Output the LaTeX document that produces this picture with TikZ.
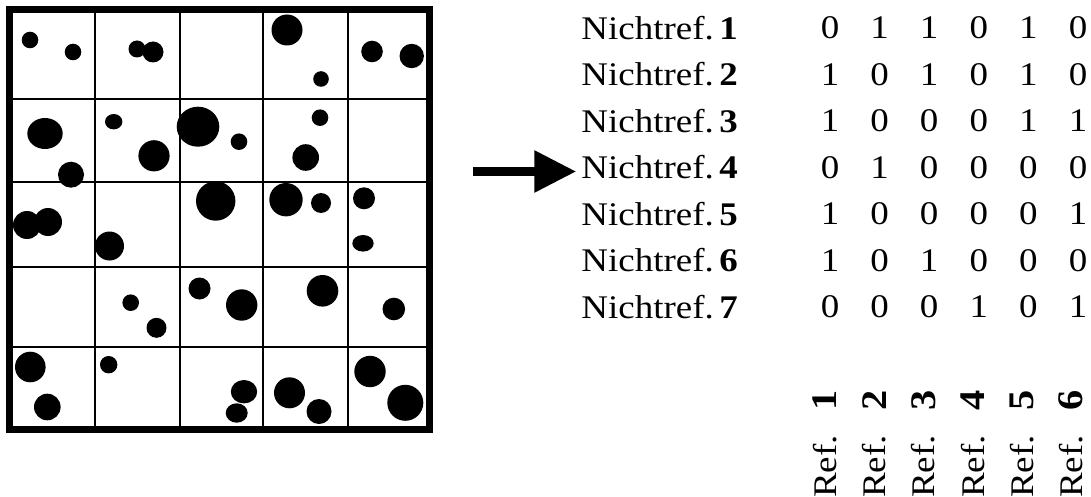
\documentclass[tikz,border=0pt]{standalone}
\usepackage{fontspec}
\setmainfont{Liberation Serif}[FakeStretch=1.12]
\usetikzlibrary{arrows.meta}
\tikzset{
  dot/.style={fill=black},
  frame/.style={draw=black, line width=7pt},
  gridline/.style={draw=black, line width=2pt},
  rowlab/.style={font=\fontsize{33}{33}\selectfont, inner sep=0pt, anchor=east},
  digit/.style={font=\fontsize{33}{33}\selectfont, inner sep=0pt},
  reflab/.style={rotate=90, inner sep=0pt, font=\fontsize{33}{33}\selectfont},
  refnum/.style={rotate=90, inner sep=0pt, font=\fontsize{36}{36}\selectfont\bfseries},
  bigarrow/.style={line width=9pt, -{Triangle[length=42pt,width=40pt]}}
}
\begin{document}
\begin{tikzpicture}[x=1pt,y=-1pt]
\useasboundingbox (0,0) rectangle (1091,497);
% dots
\foreach \x/\y/\r in {30/40/8.3, 73/52/8.3, 137/49/8.5, 153/52/10.5, 287/30/15.5, 321/79/7.8, 372/51.5/10.8, 411.7/56/12.2,
  71/174.7/13, 154/155.8/15.6, 239/141.7/8.3, 320/117.7/8.3, 305.7/157.5/13.3,
  27/225/14, 48/222/14, 109.5/246/14.5, 215.7/201/19.7, 286/199.7/16.7, 321/203/10, 364/198.3/11,
  130.7/302.7/8.3, 156.5/327.8/10, 199.5/288.5/11, 241.7/305/15.7, 322.5/290.8/15.8, 393.8/309/11.3,
  30.3/367/15.3, 47.3/407/13.3, 108.7/364.7/8.7, 289.5/392.8/15.5, 319/411.5/12.5, 370/371.5/15.7, 405.3/402.8/18}
  \fill[dot] (\x,\y) circle[radius=\r];
\fill[dot] (45,133.5) ellipse[x radius=17.7, y radius=15.5];
\fill[dot] (113.7,121.7) ellipse[x radius=8.7, y radius=7.7];
\fill[dot] (198,126.7) ellipse[x radius=21.3, y radius=20];
\fill[dot] (363,243.3) ellipse[x radius=10.7, y radius=8.3];
\fill[dot] (244,391.7) ellipse[x radius=13.2, y radius=11.7];
\fill[dot] (236.7,413) ellipse[x radius=11, y radius=9.7];
% grid
\foreach \g in {95,180,263,348} \draw[gridline] (\g,13) -- (\g,426);
\foreach \g in {99,182,267,347} \draw[gridline] (13,\g) -- (426,\g);
\draw[frame] (9.5,9.5) rectangle (429.5,429.5);
% row labels
\foreach \i in {1,...,7}
  \node[rowlab] (n\i) at (738,{28+46.5*(\i-1)}) {Nichtref.\,\textbf{\i}};
% matrix
\foreach \row [count=\i] in {{0,1,1,0,1,0},{1,0,1,0,1,0},{1,0,0,0,1,1},{0,1,0,0,0,0},{1,0,0,0,0,1},{1,0,1,0,0,0},{0,0,0,1,0,1}}
  \foreach \v [count=\j] in \row
    \node[digit] (d\i\j) at ({830+49.6*(\j-1)},{28+46.5*(\i-1)}) {\v};
% column labels
\foreach \j in {1,...,6} {
  \node[refnum] (c\j) at ({825+49.2*(\j-1)},400) {\j};
  \node[reflab] (r\j) at ({825+49.2*(\j-1)},466.5) {Ref.};
}
% arrow
\coordinate (astart) at (473,171.5);
\draw[bigarrow, shorten >=5pt] (astart) -- (n4.west |- astart);
\end{tikzpicture}
\end{document}
